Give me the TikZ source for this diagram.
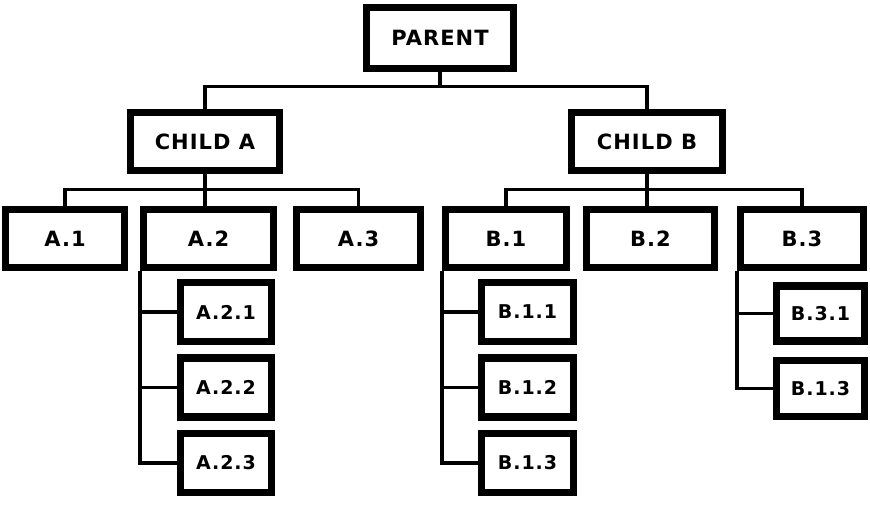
\documentclass[tikz,border=0pt]{standalone}
\usepackage{fontspec}
\newfontfamily\handfont{DejaVu Sans}[LetterSpace=5]
\begin{document}
\begin{tikzpicture}[x=1pt,y=-1pt,
  box/.style={draw=black,line width=7.5pt,fill=white,rectangle,inner sep=0pt,
    font=\handfont\bfseries\fontsize{21}{21}\selectfont},
  smallbox/.style={box,font=\handfont\bfseries\fontsize{19}{19}\selectfont},
  wire/.style={draw=black,line width=3.5pt}]
\useasboundingbox (0,0) rectangle (870,506);
% level 0
\node[box,minimum width=147pt,minimum height=61pt] (par) at (440,38) {PARENT};
% level 1
\node[box,minimum width=149pt,minimum height=58pt] (ca) at (205,141.5) {CHILD A};
\node[box,minimum width=151pt,minimum height=58pt] (cb) at (647,141.5) {CHILD B};
% level 2
\node[box,minimum width=119pt,minimum height=58pt] (a1) at (65,238.5) {A.1};
\node[box,minimum width=130pt,minimum height=58pt] (a2) at (208.5,238.5) {A.2};
\node[box,minimum width=124pt,minimum height=58pt] (a3) at (358.5,238.5) {A.3};
\node[box,minimum width=121pt,minimum height=58pt] (b1) at (506,238.5) {B.1};
\node[box,minimum width=128pt,minimum height=58pt] (b2) at (650.5,238.5) {B.2};
\node[box,minimum width=123pt,minimum height=58pt] (b3) at (802,238.5) {B.3};
% level 3
\node[smallbox,minimum width=91pt,minimum height=59pt] (a21) at (226,312) {A.2.1};
\node[smallbox,minimum width=91pt,minimum height=59pt] (a22) at (226,387.5) {A.2.2};
\node[smallbox,minimum width=91pt,minimum height=59pt] (a23) at (226,463) {A.2.3};
\node[smallbox,minimum width=92pt,minimum height=59pt] (b11) at (527.5,312) {B.1.1};
\node[smallbox,minimum width=92pt,minimum height=59pt] (b12) at (527.5,387.5) {B.1.2};
\node[smallbox,minimum width=92pt,minimum height=59pt] (b13) at (527.5,463) {B.1.3};
\node[smallbox,minimum width=88pt,minimum height=55pt] (b31) at (820.5,313.5) {B.3.1};
\node[smallbox,minimum width=88pt,minimum height=56pt] (b32) at (820.5,388.5) {B.1.3};
% connectors
\draw[wire] (par.south) -- ++(0,14) -| (ca.north);
\draw[wire] (par.south) -- ++(0,14) -| (cb.north);
\draw[wire] (ca.south) -- ++(0,15) -| (a1.north);
\draw[wire] (ca.south) -- ++(0,15) -| (a3.north);
\draw[wire] (ca.south) -- (ca.south |- a2.north);
\draw[wire] (cb.south) -- ++(0,15) -| (b1.north);
\draw[wire] (cb.south) -- ++(0,15) -| (b3.north);
\draw[wire] (cb.south) -- (cb.south |- b2.north);
\draw[wire] (a2.south west) |- (a21.west);
\draw[wire] (a2.south west) |- (a22.west);
\draw[wire] (a2.south west) |- (a23.west);
\draw[wire] (b1.south west) |- (b11.west);
\draw[wire] (b1.south west) |- (b12.west);
\draw[wire] (b1.south west) |- (b13.west);
\draw[wire] (b3.south west) |- (b31.west);
\draw[wire] (b3.south west) |- (b32.west);
\end{tikzpicture}
\end{document}
